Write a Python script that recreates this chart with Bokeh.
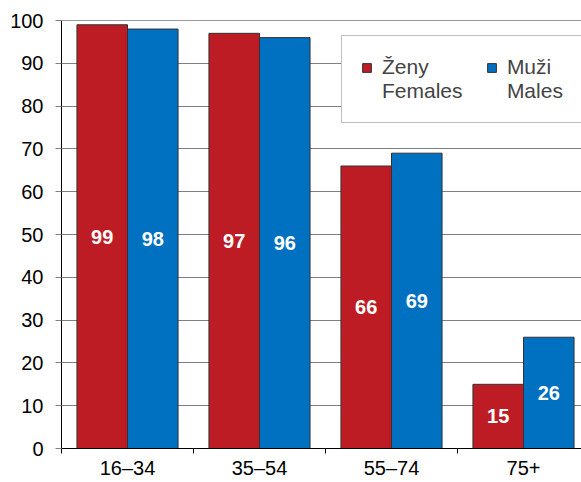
from bokeh.plotting import figure
from bokeh.models import Range1d, FixedTicker, Span, Legend, LegendItem
from bokeh.core.properties import value
from bokeh.embed import file_html
from bokeh.resources import INLINE

categories = ["16–34", "35–54", "55–74", "75+"]
females = [99, 97, 66, 15]
males = [98, 96, 69, 26]
label_cz = ["Ženy", "Muži"]
label_en = ["Females", "Males"]
y_ticks = list(range(0, 101, 10))

RED = "#BE1C24"
BLUE = "#0070C0"
FONT = "Liberation Sans"

n = len(categories)
centers = [i + 0.5 for i in range(n)]
bounds = [float(i) for i in range(n + 1)]
bar_w = 0.383
off = bar_w / 2

p = figure(width=581, height=482, output_backend="svg", toolbar_location=None,
           x_range=Range1d(0, 520 / 132), y_range=Range1d(0, 100),
           min_border_left=61, min_border_right=0, min_border_top=20,
           min_border_bottom=34)

r_f = p.vbar(x=[c - off for c in centers], top=females, width=bar_w,
             fill_color=RED, line_color="#333333", line_width=1)
r_m = p.vbar(x=[c + off for c in centers], top=males, width=bar_w,
             fill_color=BLUE, line_color="#333333", line_width=1)
# invisible renderer for legend rows without a swatch
r_blank = p.vbar(x=[], top=[], width=bar_w, fill_alpha=0, line_alpha=0)

for xs, vals in (([c - off for c in centers], females), ([c + off for c in centers], males)):
    p.text(x=xs, y=[v / 2 for v in vals], text=[str(v) for v in vals],
           text_color="white", text_font=value(FONT), text_font_style="bold",
           text_font_size="20px", text_align="center", text_baseline="middle")

p.add_layout(Span(location=100, dimension="width", line_color="#333333", line_width=1))

# axes
p.xaxis.ticker = FixedTicker(ticks=centers, minor_ticks=bounds)
p.xaxis.major_label_overrides = {c: lab for c, lab in zip(centers, categories)}
p.xaxis.major_tick_in = 0
p.xaxis.major_tick_out = 0
p.xaxis.minor_tick_in = 0
p.xaxis.minor_tick_out = 5
p.xaxis.minor_tick_line_color = "black"
p.xaxis.major_label_standoff = 3
p.xaxis.axis_line_color = "black"

p.yaxis.ticker = FixedTicker(ticks=y_ticks)
p.yaxis.major_tick_in = 0
p.yaxis.major_tick_out = 6
p.yaxis.major_tick_line_color = "#808080"
p.yaxis.minor_tick_line_color = None
p.yaxis.major_label_standoff = 12
p.yaxis.axis_line_color = "black"

for ax in (p.xaxis, p.yaxis):
    ax.major_label_text_font = FONT
    ax.major_label_text_font_size = "20px"
    ax.major_label_text_color = "black"

p.xgrid.visible = False
p.ygrid.ticker = FixedTicker(ticks=y_ticks)
p.ygrid.grid_line_color = "#808080"
p.outline_line_color = None

gap = "    "  # widens the first legend column
legend = Legend(items=[LegendItem(label=label_cz[0], renderers=[r_f]),
                       LegendItem(label=label_cz[1], renderers=[r_m]),
                       LegendItem(label=label_en[0] + gap, renderers=[r_blank]),
                       LegendItem(label=label_en[1], renderers=[r_blank])],
                orientation="horizontal", ncols=2, location=(280, 325),
                label_text_font=FONT, label_text_font_size="21px",
                label_text_line_height=1.0,
                glyph_width=11, glyph_height=11, label_standoff=10,
                label_height=21,
                spacing=0, padding=19, margin=0,
                border_line_color="#808080", border_line_width=1,
                background_fill_color="white", background_fill_alpha=1)
p.add_layout(legend)

open("out.html", "w").write(file_html(p, INLINE))
